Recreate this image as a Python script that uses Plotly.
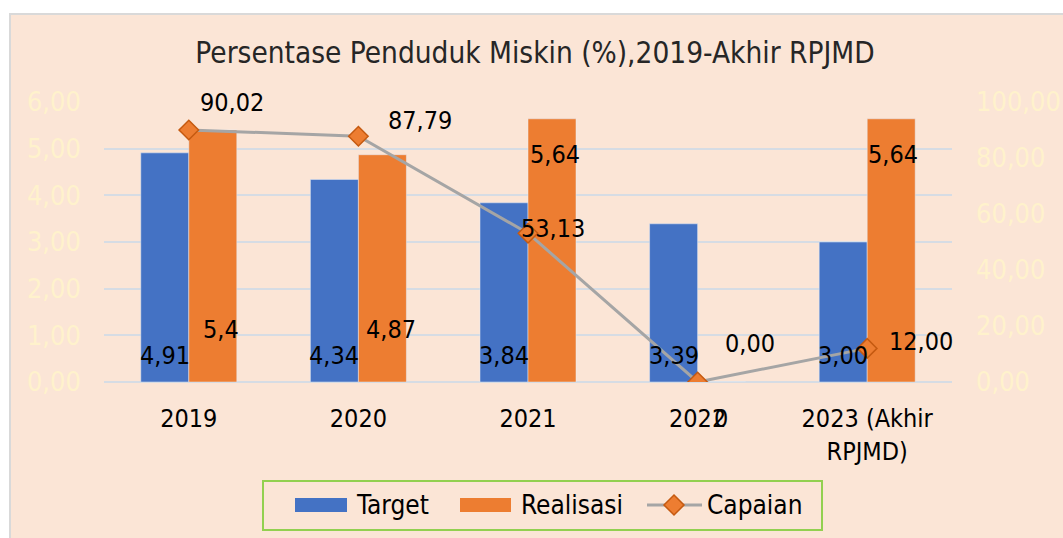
import plotly.graph_objects as go

categories = ["2019", "2020", "2021", "2022", "2023 (Akhir<br>RPJMD)"]
target = [4.91, 4.34, 3.84, 3.39, 3.00]
realisasi = [5.4, 4.87, 5.64, 0, 5.64]
capaian = [90.02, 87.79, 53.13, 0.00, 12.00]

series_names = ["Target", "Realisasi", "Capaian"]
title_text = "Persentase Penduduk Miskin (%),2019-Akhir RPJMD"

FONT = "DejaVu Sans Condensed, DejaVu Sans, sans-serif"
PEACH = "#FBE5D6"
BLUE = "#4472C4"
ORANGE = "#ED7D31"
DKORANGE = "#C55A11"
GRAY = "#A5A5A5"
PALE = "#FFF2CC"
GRID = "#D6DCE4"
FS_LABEL = 25
FS_TICK = 25
FS_AXIS = 27
FS_LEG = 26
FS_TITLE = 29.5


def fmt2(v):
    return f"{v:.2f}".replace(".", ",")


def fmtg(v):
    return f"{v:g}".replace(".", ",")


fig = go.Figure()
fig.add_trace(go.Bar(x=categories, y=target, name=series_names[0], marker_color=BLUE,
                     yaxis="y", showlegend=False))
fig.add_trace(go.Bar(x=categories, y=realisasi, name=series_names[1], marker_color=ORANGE,
                     yaxis="y", showlegend=False))
fig.add_trace(go.Scatter(x=categories, y=capaian, name=series_names[2], yaxis="y2",
                         mode="lines+markers", showlegend=False,
                         line=dict(color=GRAY, width=3),
                         marker=dict(symbol="diamond", size=15, color=ORANGE,
                                     line=dict(color=DKORANGE, width=1.5))))

ann = []
# data label offsets (pixels) – layout only
t_dx, t_dy = -24, 27
r_off = [(32, 53, "base"), (33, 53, "base"), (27, -36, "top"), (23, -36, "top"), (26, -36, "top")]
c_off = [(43, 27), (62, 16), (25, 5), (52, 39), (54, 7)]

for i, c in enumerate(categories):
    ann.append(dict(x=i, y=0, xref="x", yref="y", text=fmt2(target[i]),
                    xshift=t_dx, yshift=t_dy, showarrow=False,
                    font=dict(size=FS_LABEL)))
    dx, dy, mode = r_off[i]
    yv = 0 if mode == "base" else realisasi[i]
    ann.append(dict(x=i, y=yv, xref="x", yref="y", text=fmtg(realisasi[i]),
                    xshift=dx, yshift=dy, showarrow=False,
                    font=dict(size=FS_LABEL)))
    ann.append(dict(x=i, y=capaian[i], xref="x", yref="y2", text=fmt2(capaian[i]),
                    xshift=c_off[i][0], yshift=c_off[i][1], showarrow=False,
                    font=dict(size=FS_LABEL)))

L, R, T, B = 104, 111, 102, 156
W, H = 1063, 538
pw, ph = W - L - R, H - T - B


def px(x):
    return (x - L) / pw


def py(y):
    return (H - B - y) / ph


shapes = [
    # chart area background with light border
    dict(type="rect", xref="paper", yref="paper", layer="below",
         x0=px(10), x1=px(W + 10), y0=py(H + 10), y1=py(14),
         fillcolor=PEACH, line=dict(color="#D9D9D9", width=2)),
    # legend box
    dict(type="rect", xref="paper", yref="paper", layer="above",
         x0=px(263), x1=px(822), y0=py(530), y1=py(481),
         fillcolor="rgba(0,0,0,0)", line=dict(color="#92D050", width=2)),
    # legend swatches
    dict(type="rect", xref="paper", yref="paper", x0=px(295), x1=px(347),
         y0=py(512), y1=py(498), fillcolor=BLUE, line=dict(width=0)),
    dict(type="rect", xref="paper", yref="paper", x0=px(460), x1=px(511),
         y0=py(512), y1=py(498), fillcolor=ORANGE, line=dict(width=0)),
    dict(type="line", xref="paper", yref="paper", x0=px(647), x1=px(702),
         y0=py(505), y1=py(505), line=dict(color=GRAY, width=3)),
    dict(type="path", xref="paper", yref="paper",
         path=(f"M {px(674)} {py(495)} L {px(684)} {py(505)} "
               f"L {px(674)} {py(515)} L {px(664)} {py(505)} Z"),
         fillcolor=ORANGE, line=dict(color=DKORANGE, width=1.5)),
]

leg_x = [354, 519, 705]
for name, x0 in zip(series_names, leg_x):
    ann.append(dict(x=px(x0), y=py(505), xref="paper", yref="paper", text=name,
                    xanchor="left", yanchor="middle", showarrow=False,
                    font=dict(size=FS_LEG, color="black")))

fig.update_layout(
    width=W, height=H,
    margin=dict(l=L, r=R, t=T, b=B, pad=0, autoexpand=False),
    paper_bgcolor="white",
    plot_bgcolor="rgba(0,0,0,0)",
    font=dict(family=FONT, size=FS_LABEL, color="black"),
    separators=", ",
    barmode="group", bargap=0.434, bargroupgap=0,
    showlegend=False,
    title=dict(text=title_text, x=535 / W, xref="container", xanchor="center",
               y=1 - 53 / H, yref="container", yanchor="middle",
               font=dict(family=FONT, size=FS_TITLE, color="#262626")),
    xaxis=dict(type="category", range=[-0.5, len(categories) - 0.5],
               automargin=False, showgrid=False, zeroline=False, showline=False,
               ticks="", ticklabelstandoff=19,
               tickfont=dict(family=FONT, size=FS_TICK, color="black")),
    yaxis=dict(range=[0, 6], dtick=1, tickformat=".2f", showgrid=True,
               automargin=False,
               gridcolor=GRID, gridwidth=2, zeroline=True, zerolinecolor=GRID,
               zerolinewidth=2, showline=False, ticks="", ticklabelstandoff=22,
               tickfont=dict(family=FONT, size=FS_AXIS, color=PALE)),
    yaxis2=dict(range=[0, 100], dtick=20, tickformat=".2f", overlaying="y",
                automargin=False,
                side="right", showgrid=False, zeroline=False, showline=False,
                ticks="", ticklabelstandoff=23,
                tickfont=dict(family=FONT, size=FS_AXIS, color=PALE)),
    annotations=ann,
    shapes=shapes,
)

fig.write_html("out.html", config={"displayModeBar": False},
               post_script="document.body.style.margin='0';"
                           "document.body.style.overflow='hidden';")
